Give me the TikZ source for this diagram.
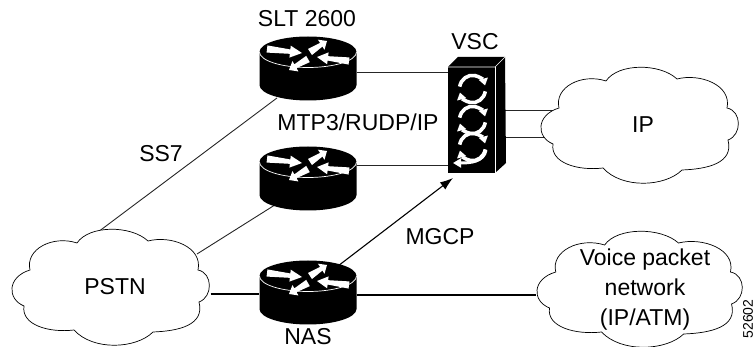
\documentclass[tikz,border=0pt]{standalone}
\usepackage{fontspec}
\setmainfont{Liberation Sans}
\usetikzlibrary{calc,arrows.meta}

\tikzset{
    lbl/.style={inner sep=0pt, font=\fontsize{23}{30}\selectfont},
    link/.style={line width=0.9pt, black!85},
    trunk/.style={line width=1.6pt},
    routerbox/.style={inner sep=0pt, minimum width=97pt, minimum height=65pt},
    vscbox/.style={inner sep=0pt, minimum width=47pt, minimum height=106pt},
    cloudbox/.style={inner sep=0pt, minimum width=199pt, minimum height=116pt},
    swirl/.style={white, line width=3.6pt, -{Triangle[width=9pt,length=7pt]}},
    router/.pic={
        \fill[black] (-48.5,0) .. controls (-48.5,-8.6) and (-26.8,-15.5) .. (0,-15.5)
            .. controls (26.8,-15.5) and (48.5,-8.6) .. (48.5,0) -- (48.5,33)
            .. controls (48.5,41.6) and (26.8,48.5) .. (0,48.5)
            .. controls (-26.8,48.5) and (-48.5,41.6) .. (-48.5,33) -- cycle;
        \draw[white, line width=0.7pt] (-48.5,0) .. controls (-48.5,8.6) and (-26.8,15.5) .. (0,15.5)
            .. controls (26.8,15.5) and (48.5,8.6) .. (48.5,0);
        \foreach \ax/\ay/\bx/\by in {-41/-3/-6/1, 2/0/19/-11, 41/9/9/5, 0/7/-19/18} {
            \coordinate (at) at (\ax,\ay);
            \coordinate (ah) at (\bx,\by);
            \coordinate (an) at ($(at)!.66!(ah)$);
            \fill[white] ($(at)!3.6pt!90:(ah)$) -- ($(an)!2.2pt!90:(ah)$) -- ($(an)!6pt!90:(ah)$) -- (ah)
                -- ($(an)!6pt!-90:(ah)$) -- ($(an)!2.2pt!-90:(ah)$) -- ($(at)!3.6pt!-90:(ah)$) -- cycle;
        }
    },
    cloud/.pic={
        \draw[line width=0.7pt, fill=white] (-81,-17)
            .. controls (-86,-38) and (-58,-52) .. (-34,-44)
            .. controls (-22,-62) and (20,-62) .. (37,-46)
            .. controls (60,-52) and (92,-40) .. (87,-17)
            .. controls (102,-14) and (102,10) .. (88,15)
            .. controls (94,38) and (68,44) .. (42,45)
            .. controls (25,62) and (-18,64) .. (-37,43)
            .. controls (-62,46) and (-90,38) .. (-87,19)
            .. controls (-104,12) and (-104,-10) .. (-81,-17) -- cycle;
    },
}

\begin{document}
\begin{tikzpicture}[x=1pt, y=-1pt]
\useasboundingbox (0,0) rectangle (756,347);

% connectors first, devices on top
\coordinate (sstop) at (98,232);
\coordinate (ssmid) at (197,254);
\coordinate (mgcpend) at (453,178);

\node[routerbox] (slt) at (308,69) {};
\node[routerbox] (mid) at (308,179) {};
\node[routerbox] (nas) at (308,293.5) {};
\node[vscbox] (vsc) at (471.5,120) {};
\node[cloudbox] (pstn) at (111,287) {};
\node[cloudbox] (ipnet) at (640,125) {};
\node[cloudbox, minimum width=207pt] (voice) at (640,289) {};

\draw[link] (277,98) -- (sstop);
\draw[link] (278,203) -- (ssmid);
\draw[link] (slt.east |- 0,72) -- (vsc.west |- 0,72);
\draw[link] (mid.east |- 0,165) -- (vsc.west |- 0,165);
\draw[link] (500,110) -- (560,110);
\draw[link] (500,137) -- (545,137);
\draw[trunk] (pstn.east |- 0,294) -- (nas.west |- 0,294);
\draw[trunk] (nas.east |- 0,295) -- (voice.west |- 0,295);
\draw[link, line width=1.1pt, black, -{Latex[length=13pt,width=9pt]}] (338,266) -- (mgcpend);

\pic at (pstn) {cloud};
\pic at (ipnet) {cloud};
\pic[xscale=1.04] at (voice) {cloud};

\pic at (308,52) {router};
\pic at (308,162) {router};
\pic at (308,276) {router};

% vsc box
\fill (448,67) -- (458,57) -- (505,57) -- (506,163) -- (495,173) -- (448,173) -- cycle;
\draw[white, line width=0.7pt] (448,67) -- (495,67) -- (505,57);
\draw[white, line width=0.7pt] (495,67) -- (495,173);
\foreach \cy in {89,120,147} {
    \begin{scope}[shift={(472.5,\cy)}, yscale=1.05]
        \draw[swirl] (190:13) arc[radius=13, start angle=190, end angle=345];
        \draw[swirl] (10:13) arc[radius=13, start angle=10, end angle=165];
    \end{scope}
}
\draw[white, line width=3pt, -{Triangle[width=9pt,length=8pt]}] (486,150) .. controls (484,162) and (470,163) .. (453,163);

\node[lbl] (pstnlbl) at (115,287) {PSTN};
\node[lbl] (iplbl) at (643,125) {IP};
\node[lbl, align=center] (voicelbl) at (645,290) {Voice packet\\network\\(IP/ATM)};
\node[lbl] (sltlbl) at (307,19) {SLT 2600};
\node[lbl] (vsclbl) at (475,42) {VSC};
\node[lbl] (mtplbl) at (358,122) {MTP3/RUDP/IP};
\node[lbl] (sslbl) at (161,154) {SS7};
\node[lbl] (mgcplbl) at (440,237) {MGCP};
\node[lbl] (naslbl) at (308,336.5) {NAS};
\node[inner sep=0pt, rotate=90, font=\fontsize{14}{16}\selectfont] (figlbl) at (748,319) {52602};
\end{tikzpicture}
\end{document}
